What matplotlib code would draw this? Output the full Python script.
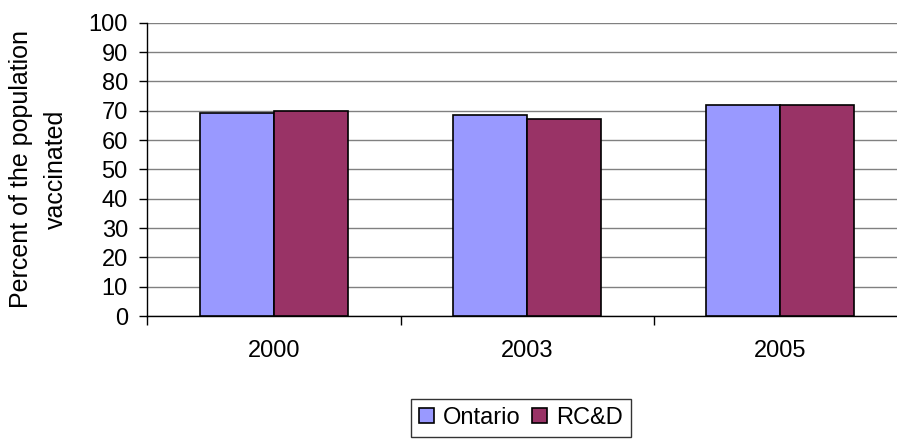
import matplotlib
matplotlib.use("Agg")
import matplotlib.pyplot as plt
import numpy as np

plt.rcParams['font.family'] = ['Liberation Sans', 'DejaVu Sans']

years = ["2000", "2003", "2005"]
ontario = [69.3, 68.6, 72.0]
rcd = [69.8, 67.2, 72.0]

fig = plt.figure(figsize=(8.97, 4.41), dpi=100)
ax = fig.add_axes([0.1642, 0.2834, 0.847, 0.665])

x = np.arange(len(years))
w = 0.292
ax.bar(x - w / 2, ontario, w, color="#9999FF", edgecolor="black", linewidth=1.2,
       label="Ontario", zorder=3)
ax.bar(x + w / 2, rcd, w, color="#993366", edgecolor="black", linewidth=1.2,
       label="RC&D", zorder=3)

ax.set_xlim(-0.5, len(years) - 0.5)
ax.set_ylim(0, 100)
ax.set_yticks(np.arange(0, 101, 10))
ax.yaxis.grid(True, color="#808080", linewidth=1, zorder=0)
ax.set_axisbelow(True)

# category labels centered, tick marks on the category boundaries
ax.set_xticks(x)
ax.set_xticklabels(years, fontsize=17)
ax.tick_params(axis="x", length=0, pad=17)
ax.set_xticks(np.arange(-0.5, len(years)), minor=True)
ax.tick_params(axis="x", which="minor", length=6.5, width=1, direction="out")
ax.tick_params(axis="y", labelsize=17, length=6, width=1, direction="out", pad=8)

for s in ["top", "right"]:
    ax.spines[s].set_visible(False)
for s in ["left", "bottom"]:
    ax.spines[s].set_color("black")
    ax.spines[s].set_linewidth(1)

ax.set_ylabel("Percent of the population\nvaccinated", fontsize=18,
              linespacing=1.6)
ax.yaxis.set_label_coords(-0.104, 0.5)

leg = fig.legend(loc="center", bbox_to_anchor=(0.581, 0.052), ncol=2, fontsize=17,
                 frameon=True, fancybox=False, edgecolor="black",
                 handlelength=0.6, handleheight=0.6, handletextpad=0.4,
                 columnspacing=0.5, borderpad=0.35, borderaxespad=0)
leg.get_frame().set_linewidth(1)

fig.savefig("out.png", dpi=100)
